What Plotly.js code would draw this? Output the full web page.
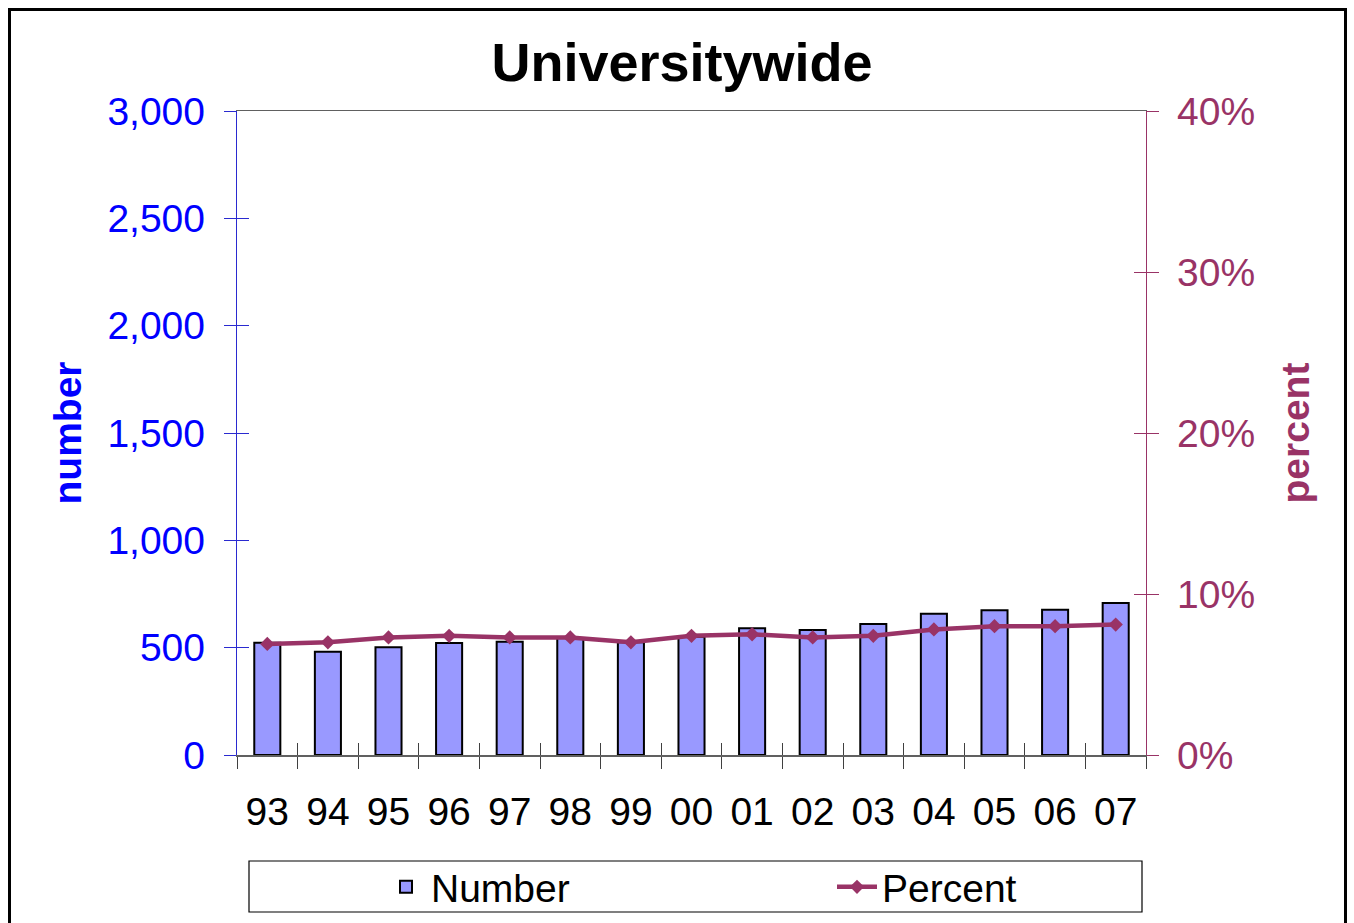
<!DOCTYPE html>
<html>
<head>
<meta charset="utf-8">
<script src="https://cdn.plot.ly/plotly-3.0.1.min.js"></script>
<style>html,body{margin:0;padding:0;background:#fff;}#chart{width:1354px;height:923px;}</style>
</head>
<body>
<div id="chart"></div>
<script>
const years = ['93','94','95','96','97','98','99','00','01','02','03','04','05','06','07'];
const numbers = [523, 481, 502, 522, 528, 545, 525, 551, 590, 582, 610, 658, 674, 677, 708];
const percents = [6.9, 7.0, 7.3, 7.4, 7.3, 7.3, 7.0, 7.4, 7.5, 7.3, 7.4, 7.8, 8.0, 8.0, 8.1];
const leftTicks = [0, 500, 1000, 1500, 2000, 2500, 3000];
const rightTicks = [0, 10, 20, 30, 40];
const rightTickText = ['0%', '10%', '20%', '30%', '40%'];

const FONT = 'Liberation Sans, Arial, sans-serif';
const BLUE = '#0000FF';
const MAROON = '#993366';

const traces = [
  {
    type: 'bar', name: 'Number', x: years, y: numbers,
    marker: {color: '#9999FF', line: {color: '#000000', width: 2}},
    width: 0.43, xaxis: 'x', yaxis: 'y'
  },
  {
    type: 'scatter', mode: 'lines+markers', name: 'Percent', x: years, y: percents,
    line: {color: MAROON, width: 4.5},
    marker: {symbol: 'diamond', size: 11, color: MAROON},
    xaxis: 'x', yaxis: 'y2'
  }
];

const layout = {
  width: 1354, height: 923,
  margin: {l: 237, r: 208, t: 111, b: 168, pad: 0, autoexpand: false},
  paper_bgcolor: '#ffffff', plot_bgcolor: '#ffffff',
  font: {family: FONT, color: '#000'},
  showlegend: true,
  title: {
    text: 'Universitywide',
    font: {size: 54, weight: 'bold', color: '#000', family: FONT},
    xref: 'container', yref: 'container', x: 682/1354, y: 1 - 62/923,
    xanchor: 'center', yanchor: 'middle'
  },
  xaxis: {
    type: 'category', categoryorder: 'array', categoryarray: years,
    range: [-0.5, 14.5], automargin: false,
    showline: true, linecolor: '#606060', linewidth: 1.5, mirror: true,
    ticks: 'outside', ticklen: 12, tickcolor: '#404040', tickwidth: 1,
    tickson: 'boundaries',
    tickfont: {size: 39, color: '#000'},
    ticklabelstandoff: 22,
    showgrid: false, zeroline: false, fixedrange: true
  },
  xaxis2: {
    type: 'category', categoryorder: 'array', categoryarray: years,
    range: [-0.5, 14.5], overlaying: 'x', matches: 'x', automargin: false,
    showline: false, ticks: 'inside', ticklen: 12, tickcolor: '#404040', tickwidth: 1,
    tickson: 'boundaries', showticklabels: false, showgrid: false, zeroline: false
  },
  yaxis: {
    range: [0, 3000], tickvals: leftTicks, tickformat: ',d', automargin: false,
    showline: true, linecolor: '#2a2ad0', linewidth: 1.2,
    ticks: 'outside', ticklen: 12, tickcolor: '#2a2ad0', tickwidth: 1,
    tickfont: {size: 39, color: BLUE},
    ticklabelstandoff: 11,
    title: {text: 'number', font: {size: 39, color: BLUE, weight: 'bold'}, standoff: 13},
    showgrid: false, zeroline: false, fixedrange: true
  },
  yaxis3: {
    range: [0, 3000], tickvals: leftTicks, overlaying: 'y', side: 'left', automargin: false,
    showline: false, ticks: 'inside', ticklen: 12, tickcolor: '#2a2ad0', tickwidth: 1,
    showticklabels: false, showgrid: false, zeroline: false
  },
  yaxis2: {
    range: [0, 40], tickvals: rightTicks, ticktext: rightTickText, overlaying: 'y', side: 'right',
    automargin: false,
    showline: true, linecolor: MAROON, linewidth: 1.2,
    ticks: 'outside', ticklen: 12, tickcolor: MAROON, tickwidth: 1,
    tickfont: {size: 39, color: MAROON},
    ticklabelstandoff: 10,
    title: {text: 'percent', font: {size: 39, color: MAROON, weight: 'bold'}, standoff: 27},
    showgrid: false, zeroline: false, fixedrange: true
  },
  yaxis4: {
    range: [0, 40], tickvals: rightTicks, overlaying: 'y', side: 'right', automargin: false,
    showline: false, ticks: 'inside', ticklen: 12, tickcolor: MAROON, tickwidth: 1,
    showticklabels: false, showgrid: false, zeroline: false
  },
  legend: {
    orientation: 'h', xref: 'container', yref: 'container',
    x: 381 / 1354, xanchor: 'left',
    y: 1 - 887 / 923, yanchor: 'middle',
    font: {size: 39, color: '#000'},
    entrywidth: 396, entrywidthmode: 'pixels',
    bgcolor: 'rgba(0,0,0,0)', borderwidth: 0, itemwidth: 40
  },
  shapes: [
    {type: 'rect', xref: 'paper', yref: 'paper',
     x0: (249 - 237) / 909, x1: (1142 - 237) / 909,
     y0: (755 - 912) / 644, y1: (755 - 861) / 644,
     line: {color: '#000', width: 1.2}, fillcolor: 'rgba(0,0,0,0)', layer: 'below'},
    {type: 'rect', xref: 'paper', yref: 'paper',
     x0: (9.5 - 237) / 909, x1: (1345.5 - 237) / 909,
     y0: -0.6, y1: (755 - 9.5) / 644,
     line: {color: '#000', width: 3}, fillcolor: 'rgba(0,0,0,0)', layer: 'below'}
  ]
};

// invisible helper traces so the overlay tick axes render
traces.push({type: 'scatter', x: years, y: numbers, xaxis: 'x2', yaxis: 'y3', mode: 'none', showlegend: false, hoverinfo: 'skip'});
traces.push({type: 'scatter', x: years, y: percents, xaxis: 'x', yaxis: 'y4', mode: 'none', showlegend: false, hoverinfo: 'skip'});

Plotly.newPlot('chart', traces, layout, {displayModeBar: false, staticPlot: true});
</script>
</body>
</html>
